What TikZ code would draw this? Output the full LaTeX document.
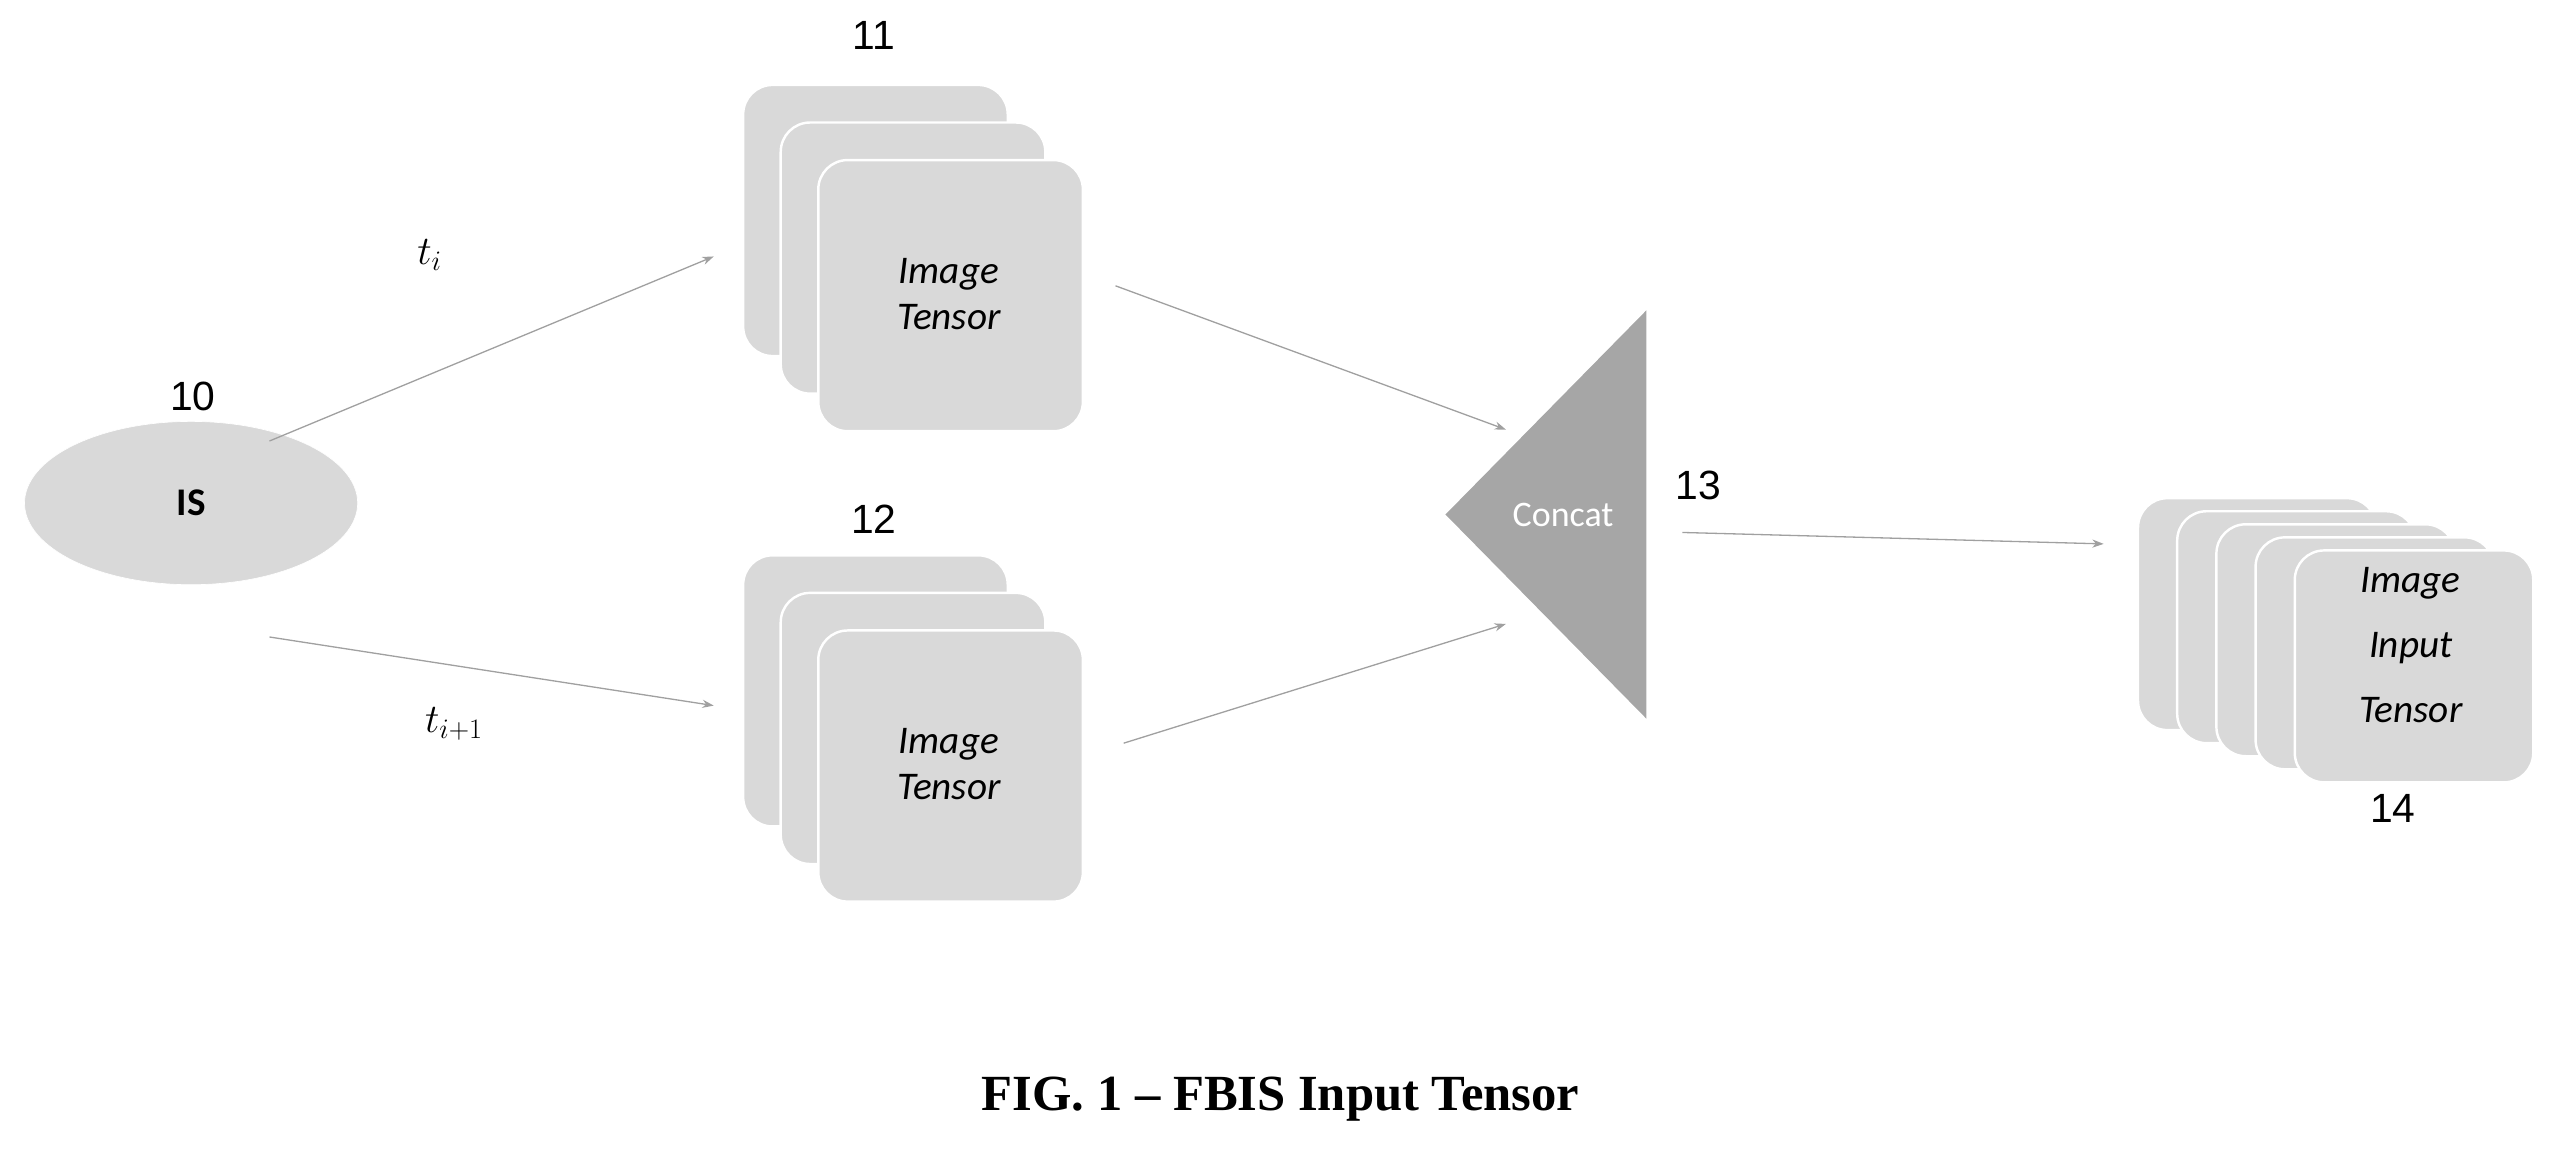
\documentclass[tikz,border=0pt]{standalone}
\usepackage{fontspec}
\setmainfont{Liberation Sans}
\newfontfamily\carl{Carlito}
\newfontfamily\capfont{Liberation Serif}
\usetikzlibrary{arrows.meta,shapes.geometric}
\definecolor{boxg}{HTML}{D9D9D9}
\definecolor{trig}{HTML}{A6A6A6}
\definecolor{arrg}{HTML}{A0A0A0}
\tikzset{
  card/.style={fill=boxg, draw=white, line width=1.5pt, rounded corners=18pt},
  conn/.style={draw=arrg, line width=0.8pt, -{Stealth[length=7pt,width=5pt]}},
  num/.style={font=\fontsize{25}{28}\selectfont},
  itxt/.style={font=\carl\itshape\fontsize{24}{28}\selectfont, align=center},
}
\begin{document}
\begin{tikzpicture}[x=1pt,y=-1pt]
\useasboundingbox (0,0) rectangle (1568,710);
% IS
\node[ellipse, fill=boxg, draw=white, minimum width=204pt, minimum height=100pt, inner sep=0pt, font=\carl\bfseries\fontsize{24}{28}\selectfont] (is) at (117,308) {IS};
\node[num] (n10) at (118,243) {10};
% stack 11
\foreach \k in {0,1,2}{
  \draw[card] (455+23*\k,52+23*\k) rectangle ++(162,166);
}
\node[itxt] (t11) at (581,180) {Image\\Tensor};
\node[num] (n11) at (535,22) {11};
% stack 12
\foreach \k in {0,1,2}{
  \draw[card] (455+23*\k,340+23*\k) rectangle ++(162,166);
}
\node[itxt] (t12) at (581,468) {Image\\Tensor};
\node[num] (n12) at (535,318) {12};
% triangle
\coordinate (ta) at (885,315);
\coordinate (tb) at (1008,190);
\coordinate (tc) at (1008,440);
\fill[trig] (ta) -- (tb) -- (tc) -- cycle;
\node[font=\carl\fontsize{22}{26}\selectfont, text=white] (concat) at (957,315) {Concat};
\node[num] (n13) at (1040,297) {13};
% stack 14
\foreach \k in {0,1,2,3,4}{
  \draw[card] (1309+24*\k,305+8*\k) rectangle ++(146,142);
}
\node[itxt, font=\carl\itshape\fontsize{24}{40}\selectfont] (t14) at (1476,395) {Image\\Input\\Tensor};
\node[num] (n14) at (1465,495) {14};
% connectors
\coordinate (a1s) at (165,270); \coordinate (a1e) at (437,157);
\coordinate (a2s) at (165,390); \coordinate (a2e) at (437,432);
\coordinate (a3s) at (683,175); \coordinate (a3e) at (922,263);
\coordinate (a4s) at (688,455); \coordinate (a4e) at (922,382);
\coordinate (a5s) at (1030,326); \coordinate (a5e) at (1288,333);
\draw[conn] (a1s) -- (a1e);
\draw[conn] (a2s) -- (a2e);
\draw[conn] (a3s) -- (a3e);
\draw[conn] (a4s) -- (a4e);
\draw[conn] (a5s) -- (a5e);
\node[font=\fontsize{26}{30}\selectfont] (ti) at (263,156) {$t_i$};
\node[font=\fontsize{26}{30}\selectfont] (ti1) at (278,443) {$t_{i+1}$};
% caption
\node[font=\capfont\bfseries\fontsize{31}{36}\selectfont] (cap) at (784,673) {FIG. 1 \textendash{} FBIS Input Tensor};
\end{tikzpicture}
\end{document}
